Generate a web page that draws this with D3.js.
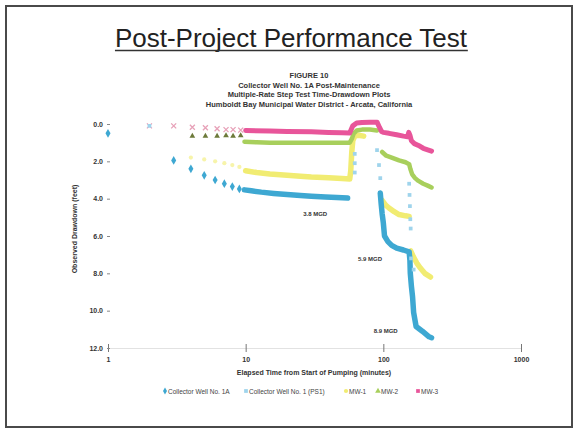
<!DOCTYPE html>
<html>
<head>
<meta charset="utf-8">
<script src="https://cdn.jsdelivr.net/npm/d3@7"></script>
<style>
  body { margin: 0; background: #fff; }
  text { font-family: "Liberation Sans", Arial, sans-serif; }
</style>
</head>
<body>
<script>
// tick labels
var xTicks = [1, 10, 100, 1000];
var yTicks = [0, 2, 4, 6, 8, 10, 12];

var subtitle = [
  "FIGURE 10",
  "Collector Well No. 1A  Post-Maintenance",
  "Multiple-Rate Step Test Time-Drawdown Plots",
  "Humboldt Bay Municipal Water District - Arcata, California"
];

// [elapsed minutes, drawdown ft]; null breaks the trace between stages
var well1A_early = [[1,0.5],[3,1.95],[4,2.4],[5,2.75],[6,3.0],[7,3.2],[8,3.35],[9,3.48]];
var well1A_trace = [[9.8,3.53],[11,3.58],[13,3.65],[16,3.72],[20,3.78],[25,3.83],[30,3.87],[38,3.91],[46,3.94],[55,3.97],null,
  [95,3.7],[96.5,4.3],[98,4.8],[100,5.3],[102,6.0],[108,6.3],[115,6.5],[125,6.65],[140,6.75],[154,6.85],
  [156,7.3],[157,8.0],[160,8.7],[163,9.25],[166,10.1],[173,10.85],[192,11.1],[215,11.4],[224,11.45]];

var ps1_pts = [[2,0.1],[62,1.6],[62,2.1],[62,2.6],[90,1.4],[93,2.2],[95,2.9],[154,3.2],[155,3.8],[156,4.4],[157,5.1],[158,5.6],[159,7.2],[166,7.8]];

var mw1_early = [[4,1.8],[5,1.9],[6,2.0],[7,2.1],[8,2.2],[9,2.3]];
var mw1_trace = [[10,2.5],[12,2.6],[15,2.68],[20,2.75],[25,2.8],[30,2.84],[40,2.88],[50,2.92],[57,2.95],[58,2.5],[59,1.5],[60,0.9],[62,0.65],[66,0.6],[72,0.65],null,
  [98,4.1],[104,4.35],[110,4.5],[120,4.7],[130,4.85],[145,4.92],[154,4.95],null,
  [158,6.8],[165,7.1],[175,7.45],[185,7.7],[200,8.0],[220,8.2]];

var mw2_early = [[4.1,0.65],[5.1,0.65],[6.2,0.65],[7.2,0.62],[8.1,0.65],[9.2,0.62]];
var mw2_trace = [[9.8,0.95],[12,0.98],[15,1.0],[20,1.0],[30,1.0],[40,1.0],[50,1.0],[57,1.0],[59,0.8],[61,0.5],[64,0.35],[70,0.3],[80,0.3],[90,0.35],null,
  [98,1.5],[105,1.7],[115,1.8],[130,1.95],[145,2.05],[154,2.15],[157,2.4],[162,2.7],[170,2.9],[180,3.05],[195,3.2],[210,3.3],[224,3.4]];

var mw3_early = [[2,0.1],[3,0.1],[4.1,0.17],[5.1,0.2],[6.2,0.25],[7.2,0.3],[8.1,0.3],[9.2,0.33]];
var mw3_trace = [[10,0.35],[15,0.38],[20,0.4],[30,0.42],[40,0.45],[50,0.47],[57,0.48],[60,0.1],[64,-0.05],[70,-0.08],[80,-0.1],[90,-0.1],[94,0.2],[97,0.4],
  [100,0.45],[110,0.5],[125,0.58],[140,0.65],[150,0.68],[153,0.45],[156,0.6],[160,0.9],[168,1.05],[180,1.15],[195,1.3],[210,1.38],[224,1.45]];

var rateLabels = [["3.8 MGD",32,4.95],["5.9 MGD",80,7.35],["8.9 MGD",104,11.2]];

var legendNames = ["Collector Well No. 1A", "Collector Well No. 1 (PS1)", "MW-1", "MW-2", "MW-3"];

var W = 574, H = 432;
var svg = d3.select("body").append("svg").attr("width", W).attr("height", H);

// slide frame
svg.append("rect").attr("x", 6).attr("y", 6).attr("width", 566).attr("height", 421)
  .attr("fill", "none").attr("stroke", "#4a4a4a").attr("stroke-width", 2);

var title = svg.append("text").attr("x", 291).attr("y", 47).attr("text-anchor", "middle")
  .style("font-size", "26px").style("fill", "#222").text("Post-Project Performance Test");
var tb = title.node().getBBox();
svg.append("line").attr("x1", tb.x).attr("x2", tb.x + tb.width).attr("y1", 50.5).attr("y2", 50.5)
  .attr("stroke", "#333").attr("stroke-width", 1.4);

svg.selectAll(".sub").data(subtitle).enter().append("text")
  .attr("x", 309).attr("y", function(d, i) { return 78 + i * 9.5; })
  .attr("text-anchor", "middle")
  .style("font-size", "7.5px").style("font-weight", "bold").style("fill", "#333")
  .text(function(d) { return d; });

var x = d3.scaleLog().domain([1, 1000]).range([108, 521]);
var y = d3.scaleLinear().domain([0, 12]).range([124, 348]);

var xAxis = d3.axisBottom(x).tickValues(xTicks).tickFormat(d3.format("d")).tickSize(4);
var yAxis = d3.axisLeft(y).tickValues(yTicks).tickFormat(d3.format(".1f")).tickSize(3);

var gx = svg.append("g").attr("transform", "translate(0,348)").call(xAxis);
gx.select(".domain").attr("stroke", "#e2e2e2");
gx.selectAll(".tick line").attr("stroke", "#777").attr("y1", -4);
gx.selectAll("text").attr("y", 9).style("font-size", "7px").style("font-weight", "bold").style("fill", "#333");

var gy = svg.append("g").attr("transform", "translate(110,0)").call(yAxis);
gy.select(".domain").attr("stroke", "none");
gy.selectAll(".tick line").attr("stroke", "#888");
gy.selectAll("text").attr("x", -7).style("font-size", "7px").style("font-weight", "bold").style("fill", "#333");

svg.append("text").attr("x", 314).attr("y", 375).attr("text-anchor", "middle")
  .style("font-size", "7px").style("font-weight", "bold").style("fill", "#333")
  .text("Elapsed Time from Start of Pumping (minutes)");
svg.append("text").attr("transform", "translate(77,229) rotate(-90)").attr("text-anchor", "middle")
  .style("font-size", "7px").style("font-weight", "bold").style("fill", "#333")
  .text("Observed Drawdown (feet)");

var line = d3.line().defined(function(d) { return d; })
  .x(function(d) { return x(d[0]); }).y(function(d) { return y(d[1]); });

var series = [
  { name: legendNames[0], color: "#3ea8d2", early: well1A_early, trace: well1A_trace, sym: d3.symbolDiamond, w: 5.5 },
  { name: legendNames[1], color: "#9fd4ec", early: ps1_pts, trace: [], sym: d3.symbolSquare, w: 0 },
  { name: legendNames[2], color: "#f1ec72", early: mw1_early, trace: mw1_trace, sym: d3.symbolCircle, w: 5.5 },
  { name: legendNames[3], color: "#a8cf5c", early: mw2_early, trace: mw2_trace, sym: d3.symbolTriangle, w: 4.5 },
  { name: legendNames[4], color: "#e8559a", early: mw3_early, trace: mw3_trace, sym: d3.symbolSquare, w: 5 }
];

// draw back to front: MW-1, MW-2, MW-3, well 1A, PS1
[2, 3, 4, 0, 1].forEach(function(i) {
  var s = series[i];
  var g = svg.append("g");
  if (s.trace.length) {
    g.append("path").datum(s.trace).attr("d", line)
      .attr("fill", "none").attr("stroke", s.color).attr("stroke-width", s.w)
      .attr("stroke-linejoin", "round").attr("stroke-linecap", "round");
  }
  var m = g.selectAll(".m").data(s.early).enter().append("path")
    .attr("transform", function(d) { return "translate(" + x(d[0]) + "," + y(d[1]) + ")"; });
  if (i == 4) {
    // MW-3 early readings plotted as pink crosses
    m.attr("d", d3.symbol().type(d3.symbolX).size(18))
      .attr("fill", "none").attr("stroke", "#e7a1b8").attr("stroke-width", 1.3);
  } else {
    m.attr("d", d3.symbol().type(s.sym).size(i == 0 ? 22 : 14))
      .attr("fill", i == 3 ? "#6d7a3a" : s.color)
      .attr("opacity", i == 2 ? 0.6 : 1);
  }
});

svg.selectAll(".rate").data(rateLabels).enter().append("text")
  .attr("x", function(d) { return x(d[1]); }).attr("y", function(d) { return y(d[2]); })
  .attr("text-anchor", "middle")
  .style("font-size", "6px").style("font-weight", "bold").style("fill", "#333")
  .text(function(d) { return d[0]; });

// legend
var legX = [165, 246, 346, 378, 418];
var leg = svg.selectAll(".leg").data(series).enter().append("g")
  .attr("transform", function(d, i) { return "translate(" + legX[i] + ",391)"; });
leg.append("path").attr("d", function(d) { return d3.symbol().type(d.sym).size(14)(); })
  .attr("fill", function(d) { return d.color; });
leg.append("text").attr("x", 3).attr("y", 2.5)
  .style("font-size", "6.5px").style("fill", "#444")
  .text(function(d) { return d.name; });
</script>
</body>
</html>
